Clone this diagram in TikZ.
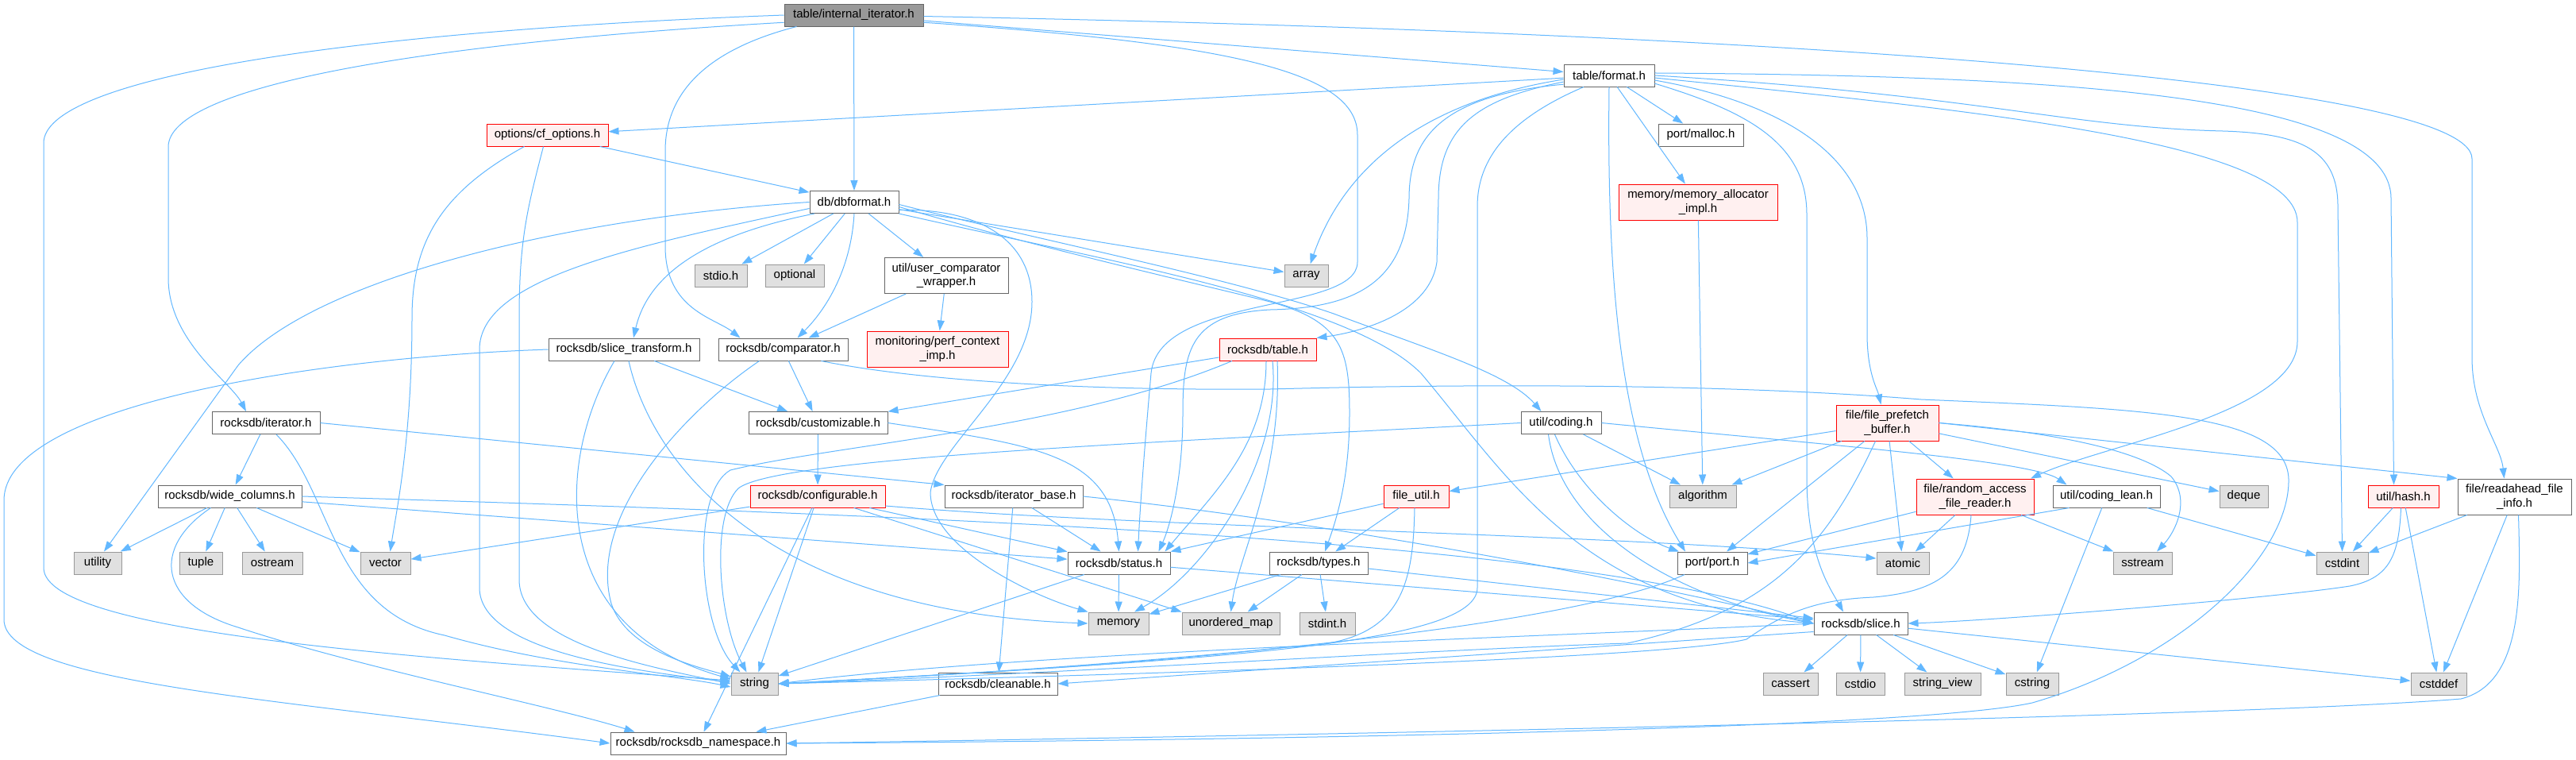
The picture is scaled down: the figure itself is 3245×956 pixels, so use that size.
\documentclass[tikz,border=0pt]{standalone}
\usepackage{fontspec}
\usetikzlibrary{arrows.meta}
\newfontfamily\doxfont{Liberation Sans}
\definecolor{edgeblue}{HTML}{63B8FF}
\definecolor{boxline}{HTML}{666666}
\definecolor{sysline}{HTML}{999999}
\definecolor{sysfill}{HTML}{E0E0E0}
\definecolor{rootfill}{HTML}{999999}
\definecolor{truncfill}{HTML}{FFF0F0}

\begin{document}
\begin{tikzpicture}[x=1pt,y=-1pt,>={Triangle[length=13pt,width=9pt]},
  every node/.style={font=\doxfont\fontsize{15}{17.5}\selectfont},
  hdr/.style={draw=boxline,fill=white,line width=1pt,minimum height=28pt,inner xsep=3pt,inner ysep=2pt},
  sys/.style={hdr,draw=sysline,fill=sysfill},
  trunc/.style={hdr,draw=red,fill=truncfill},
  rootbox/.style={hdr,fill=rootfill},
  two/.style={align=center,minimum height=45pt},
  dep/.style={->,draw=edgeblue,line width=1pt}]
  \path[use as bounding box,fill=white] (0,0) rectangle (3245,956);

  % headers
  \node[rootbox,minimum width=175pt] (root) at (1075.5,19) {table/internal\_iterator.h};
  \node[hdr,minimum width=114pt] (format) at (2027,95) {table/format.h};
  \node[trunc,minimum width=153pt] (cfopt) at (689.5,170) {options/cf\_options.h};
  \node[hdr,minimum width=107pt] (malloc) at (2142.5,170) {port/malloc.h};
  \node[hdr,minimum width=112pt] (dbformat) at (1076,254.5) {db/dbformat.h};
  \node[trunc,two,minimum width=200pt] (memalloc) at (2139,254.5) {memory/memory\_allocator\\\_impl.h};
  \node[sys,minimum width=66pt] (stdio) at (908,347) {stdio.h};
  \node[sys,minimum width=74pt] (optional) at (1001,347) {optional};
  \node[hdr,two,minimum width=156pt] (ucmpw) at (1192,347) {util/user\_comparator\\\_wrapper.h};
  \node[sys,minimum width=55pt] (array) at (1645.5,347) {array};
  \node[hdr,minimum width=190pt] (slicetr) at (786,440) {rocksdb/slice\_transform.h};
  \node[hdr,minimum width=163pt] (comparator) at (986.5,440) {rocksdb/comparator.h};
  \node[trunc,two,minimum width=178pt] (perfctx) at (1181,439.5) {monitoring/perf\_context\\\_imp.h};
  \node[trunc,minimum width=122pt] (table) at (1597,440) {rocksdb/table.h};
  \node[hdr,minimum width=136pt] (iterator) at (335,532.5) {rocksdb/iterator.h};
  \node[hdr,minimum width=175pt] (customizable) at (1030.5,532.5) {rocksdb/customizable.h};
  \node[hdr,minimum width=101pt] (coding) at (1966.5,532.5) {util/coding.h};
  \node[trunc,two,minimum width=129pt] (prefetch) at (2377.5,532.5) {file/file\_prefetch\\\_buffer.h};
  \node[hdr,minimum width=181pt] (widecol) at (289.5,625) {rocksdb/wide\_columns.h};
  \node[trunc,minimum width=170pt] (configurable) at (1030,625) {rocksdb/configurable.h};
  \node[hdr,minimum width=174pt] (iterbase) at (1277,625) {rocksdb/iterator\_base.h};
  \node[trunc,minimum width=82pt] (fileutil) at (1784,625) {file\_util.h};
  \node[sys,minimum width=84pt] (algorithm) at (2145,625) {algorithm};
  \node[trunc,two,minimum width=148pt] (randacc) at (2488,625.5) {file/random\_access\\\_file\_reader.h};
  \node[hdr,minimum width=135pt] (codinglean) at (2653.5,625) {util/coding\_lean.h};
  \node[sys,minimum width=61pt] (deque) at (2826.5,625) {deque};
  \node[trunc,minimum width=89pt] (hash) at (3027.5,625) {util/hash.h};
  \node[hdr,two,minimum width=143pt] (readahead) at (3167.5,625.5) {file/readahead\_file\\\_info.h};
  \node[sys,minimum width=60pt] (utility) at (123,709) {utility};
  \node[sys,minimum width=54pt] (tuple) at (253,709) {tuple};
  \node[sys,minimum width=76pt] (ostream) at (343,709) {ostream};
  \node[sys,minimum width=63pt] (vector) at (485.5,709) {vector};
  \node[hdr,minimum width=129pt] (status) at (1409.5,709) {rocksdb/status.h};
  \node[hdr,minimum width=124pt] (types) at (1661,709) {rocksdb/types.h};
  \node[hdr,minimum width=88pt] (port) at (2157,709) {port/port.h};
  \node[sys,minimum width=66pt] (atomic) at (2397,709) {atomic};
  \node[sys,minimum width=74pt] (sstream) at (2699,709) {sstream};
  \node[sys,minimum width=65pt] (cstdint) at (2950.5,709) {cstdint};
  \node[sys,minimum width=76pt] (memory) at (1409,785) {memory};
  \node[sys,minimum width=123pt] (umap) at (1550.5,785) {unordered\_map};
  \node[sys,minimum width=70pt] (stdint) at (1672,785) {stdint.h};
  \node[hdr,minimum width=118pt] (slice) at (2344,785) {rocksdb/slice.h};
  \node[sys,minimum width=59pt] (string) at (950.5,861) {string};
  \node[hdr,minimum width=150pt] (cleanable) at (1257,861) {rocksdb/cleanable.h};
  \node[sys,minimum width=69pt] (cassert) at (2255.5,861) {cassert};
  \node[sys,minimum width=61pt] (cstdio) at (2343.5,861) {cstdio};
  \node[sys,minimum width=96pt] (strview) at (2447,861) {string\_view};
  \node[sys,minimum width=66pt] (cstring) at (2560,861) {cstring};
  \node[sys,minimum width=70pt] (cstddef) at (3072,861) {cstddef};
  \node[hdr,minimum width=221pt] (nspace) at (879.5,936) {rocksdb/rocksdb\_namespace.h};

  % table/internal_iterator.h
  \draw[dep] (root.180) .. controls (420,40) and (55,100) .. (55,180) -- (55,715) .. controls (55,800) and (560,830) .. ([yshift=4pt]string.west);
  \draw[dep] (root.186) .. controls (520,55) and (212,110) .. (212,185) -- (212,350) .. controls (212,430) and (290,480) .. ([xshift=-25pt]iterator.north);
  \draw[dep] (root) -- (dbformat);
  \draw[dep] ([xshift=-72pt]root.south) .. controls (900,60) and (838,110) .. (838,190) -- (838,310) .. controls (838,390) and (900,400) .. ([xshift=-54pt]comparator.north);
  \draw[dep] (root) -- (format);
  \draw[dep] (root.-6) .. controls (1550,55) and (1710,90) .. (1710,170) -- (1710,330) .. controls (1710,395) and (1460,370) .. (1450,470) .. controls (1442,560) and (1436,640) .. ([xshift=24pt]status.north);
  \draw[dep] (root.-1) .. controls (2200,40) and (3114,100) .. (3114,200) -- (3114,450) .. controls (3114,520) and (3150,560) .. ([xshift=-13pt]readahead.north);

  % table/format.h
  \draw[dep] (format) -- (cfopt);
  \draw[dep] (format.185) .. controls (1780,130) and (1690,220) .. ([xshift=5pt]array.north);
  \draw[dep] (format.188) .. controls (1860,125) and (1812,160) .. (1812,250) -- (1810,330) .. controls (1800,400) and (1700,420) .. (table.north east);
  \draw[dep] (format.191) .. controls (1820,120) and (1775,170) .. (1775,250) .. controls (1772,360) and (1700,388) .. (1600,390) .. controls (1500,395) and (1490,440) .. (1490,520) .. controls (1490,600) and (1475,660) .. ([xshift=50pt]status.north);
  \draw[dep] ([xshift=-32pt]format.south) .. controls (1900,150) and (1861,200) .. (1861,260) -- (1861,740) .. controls (1861,810) and (1550,830) .. (string.east);
  \draw[dep] (format.south) .. controls (2024,350) and (2040,560) .. ([xshift=-34pt]port.north);
  \draw[dep] (format) -- (malloc);
  \draw[dep] (format) -- (memalloc);
  \draw[dep] (format.-10) .. controls (2200,140) and (2276,180) .. (2276,270) -- (2276,600) .. controls (2276,700) and (2305,740) .. ([xshift=-22pt]slice.north);
  \draw[dep] (format.-6) .. controls (2250,130) and (2352,200) .. (2352,300) -- (2352,420) .. controls (2352,470) and (2365,490) .. ([xshift=-8pt]prefetch.north);
  \draw[dep] (format.-3) .. controls (2500,140) and (2894,180) .. (2894,280) -- (2894,430) .. controls (2894,520) and (2650,560) .. ([xshift=70pt]randacc.north);
  \draw[dep] (format.east) .. controls (2500,120) and (2600,160) .. (2800,165) .. controls (2900,168) and (2945,190) .. (2945,260) -- (cstdint.north);
  \draw[dep] (format.3) .. controls (2600,95) and (3012,120) .. (3012,250) -- ([xshift=-12pt]hash.north);

  % db/dbformat.h
  \draw[dep] (dbformat.west) .. controls (700,275) and (390,355) .. (300,460) -- ([xshift=8pt]utility.north);
  \draw[dep] ([yshift=-8pt]dbformat.west) .. controls (800,310) and (604,350) .. (604,440) -- (604,740) .. controls (604,820) and (800,845) .. ([yshift=2pt]string.west);
  \draw[dep] ([xshift=-50pt]dbformat.south) .. controls (920,290) and (820,330) .. ([xshift=12pt]slicetr.north);
  \draw[dep] (dbformat) -- (stdio);
  \draw[dep] (dbformat) -- (optional);
  \draw[dep] (dbformat.south) .. controls (1072,340) and (1040,390) .. ([xshift=18pt]comparator.north);
  \draw[dep] (dbformat) -- (ucmpw);
  \draw[dep] (dbformat.-10) .. controls (1230,262) and (1300,300) .. (1300,380) .. controls (1300,480) and (1180,560) .. (1172,620) .. controls (1172,690) and (1300,750) .. (memory.north west);
  \draw[dep] (dbformat) -- (array);
  \draw[dep] (dbformat.-3) .. controls (1300,300) and (1550,350) .. (1680,395) .. controls (1800,440) and (1900,470) .. ([xshift=-25pt]coding.north);
  \draw[dep] (dbformat.-6) .. controls (1300,310) and (1520,360) .. (1600,380) .. controls (1690,405) and (1700,440) .. (1700,520) .. controls (1700,600) and (1685,650) .. ([xshift=8pt]types.north);
  \draw[dep] (dbformat.south east) .. controls (1400,330) and (1700,380) .. (1790,470) .. controls (1900,600) and (1990,760) .. (slice.west);

  % options/cf_options.h
  \draw[dep] (cfopt) -- (dbformat);
  \draw[dep] ([xshift=-29pt]cfopt.south) .. controls (560,240) and (519,300) .. (519,400) .. controls (519,550) and (500,640) .. ([xshift=6pt]vector.north);
  \draw[dep] ([xshift=-5pt]cfopt.south) .. controls (665,260) and (654,300) .. (654,400) -- (654,730) .. controls (654,810) and (820,840) .. (string.west);

  % rocksdb/slice_transform.h
  \draw[dep] (slicetr) -- (customizable);
  \draw[dep] ([xshift=6pt]slicetr.south) .. controls (820,580) and (960,770) .. (memory.west);
  \draw[dep] ([xshift=-12pt]slicetr.south) .. controls (700,580) and (690,790) .. ([yshift=6pt]string.west);
  \draw[dep] (slicetr.west) .. controls (400,450) and (5,510) .. (5,630) -- (5,780) .. controls (5,860) and (350,880) .. (nspace.west);

  % rocksdb/comparator.h
  \draw[dep] (comparator) -- (customizable);
  \draw[dep] ([xshift=-30pt]comparator.south) .. controls (860,520) and (740,650) .. (770,760) .. controls (790,820) and (880,840) .. ([yshift=9pt]string.west);
  \draw[dep] ([xshift=48pt]comparator.south) .. controls (1150,478) and (1350,492) .. (1600,490) .. controls (1900,482) and (2200,485) .. (2420,503) .. controls (2700,515) and (2880,520) .. (2883,603) .. controls (2885,700) and (2750,830) .. (2560,885) .. controls (2400,920) and (1500,933) .. (nspace.east);

  % util/user_comparator_wrapper.h
  \draw[dep] (ucmpw) -- (comparator);
  \draw[dep] (ucmpw) -- (perfctx);

  % rocksdb/table.h
  \draw[dep] (table) -- (customizable);
  \draw[dep] ([xshift=-45pt]table.south) .. controls (1350,540) and (1050,560) .. (920,592) .. controls (870,620) and (880,790) .. ([xshift=-18pt]string.north);
  \draw[dep] ([xshift=-2pt]table.south) .. controls (1595,560) and (1530,620) .. ([xshift=58pt]status.north);
  \draw[dep] ([xshift=6pt]table.south) .. controls (1615,580) and (1520,720) .. ([xshift=20pt]memory.north);
  \draw[dep] ([xshift=12pt]table.south) .. controls (1615,600) and (1560,700) .. (umap.north);

  % rocksdb/iterator.h
  \draw[dep] (iterator) -- (widecol);
  \draw[dep] ([xshift=13pt]iterator.south) .. controls (420,620) and (415,770) .. (560,800) .. controls (700,840) and (850,850) .. ([yshift=-4pt]string.west);
  \draw[dep] (iterator.east) -- (iterbase.north west);

  % rocksdb/wide_columns.h
  \draw[dep] (widecol) -- (utility);
  \draw[dep] (widecol) -- (tuple);
  \draw[dep] (widecol) -- (ostream);
  \draw[dep] (widecol) -- (vector);
  \draw[dep] ([xshift=-24pt]widecol.south) .. controls (190,690) and (200,760) .. (300,790) .. controls (450,840) and (700,890) .. ([xshift=-80pt]nspace.north);
  \draw[dep] (widecol) -- (status);
  \draw[dep] (widecol.east) .. controls (1200,650) and (2000,680) .. (slice.west);

  % rocksdb/customizable.h, rocksdb/configurable.h, rocksdb/iterator_base.h
  \draw[dep] (customizable) -- (configurable);
  \draw[dep] (customizable.east) .. controls (1300,560) and (1400,570) .. (status.north);
  \draw[dep] (configurable) -- (vector);
  \draw[dep] (configurable) -- (string);
  \draw[dep] (configurable) -- (nspace);
  \draw[dep] (configurable) -- (status);
  \draw[dep] (configurable) -- (umap.north west);
  \draw[dep] (configurable.-8) .. controls (1450,665) and (2050,672) .. (atomic.170);
  \draw[dep] (iterbase) -- (cleanable);
  \draw[dep] (iterbase) -- (status);
  \draw[dep] (iterbase.east) .. controls (1700,660) and (2100,740) .. (slice.west);

  % rocksdb/status.h, rocksdb/types.h, port/port.h
  \draw[dep] (status) -- (memory);
  \draw[dep] (status) -- (string);
  \draw[dep] (status) -- (slice);
  \draw[dep] (types) -- (stdint);
  \draw[dep] (types) -- (umap);
  \draw[dep] (types) -- (memory);
  \draw[dep] (types) -- (slice);
  \draw[dep] ([xshift=-35pt]port.south) .. controls (2000,780) and (1600,830) .. (string.east);

  % util/coding.h
  \draw[dep] (coding.west) .. controls (1500,555) and (980,575) .. (930,615) .. controls (895,650) and (905,780) .. ([xshift=-10pt]string.north);
  \draw[dep] (coding) -- (algorithm);
  \draw[dep] ([xshift=-8pt]coding.south) .. controls (1990,620) and (2060,675) .. ([xshift=-42pt]port.north);
  \draw[dep] ([xshift=-16pt]coding.south) .. controls (1965,660) and (2100,750) .. (slice.west);
  \draw[dep] (coding.east) .. controls (2300,560) and (2560,580) .. ([xshift=-50pt]codinglean.north);

  % file/file_prefetch_buffer.h
  \draw[dep] (prefetch) -- (fileutil);
  \draw[dep] (prefetch) -- (algorithm);
  \draw[dep] (prefetch) -- (port);
  \draw[dep] ([xshift=-15pt]prefetch.south) .. controls (2300,690) and (2230,770) .. (2050,810) .. controls (1800,818) and (1300,850) .. (string.east);
  \draw[dep] (prefetch) -- (atomic);
  \draw[dep] (prefetch) -- (randacc);
  \draw[dep] (prefetch.east) .. controls (2600,545) and (2700,570) .. (2735,600) .. controls (2760,630) and (2740,670) .. ([xshift=18pt]sstream.north);
  \draw[dep] (prefetch) -- (deque);
  \draw[dep] (prefetch.east) -- (readahead.north west);

  % file_util.h, file/random_access_file_reader.h
  \draw[dep] ([xshift=-2pt]fileutil.south) .. controls (1780,750) and (1760,812) .. (1620,815) .. controls (1400,840) and (1150,852) .. (string.east);
  \draw[dep] (fileutil) -- (status);
  \draw[dep] (fileutil) -- (types);
  \draw[dep] (randacc) -- (atomic);
  \draw[dep] ([xshift=-5pt]randacc.south) .. controls (2478,720) and (2440,745) .. (2360,752) .. controls (2290,755) and (2250,770) .. (2200,805) .. controls (2100,830) and (1400,850) .. (string.east);
  \draw[dep] (randacc) -- (sstream);
  \draw[dep] (randacc) -- (port);

  % util/coding_lean.h, util/hash.h, file/readahead_file_info.h
  \draw[dep] (codinglean) -- (cstdint);
  \draw[dep] (codinglean) -- (cstring);
  \draw[dep] ([xshift=-47pt]codinglean.south) -- (port.east);
  \draw[dep] (hash) -- (cstdint);
  \draw[dep] (hash) -- (cstddef);
  \draw[dep] ([xshift=-3pt]hash.south) .. controls (3022,700) and (3010,728) .. (2960,738) .. controls (2850,755) and (2500,782) .. (slice.east);
  \draw[dep] (readahead) -- (cstdint);
  \draw[dep] (readahead) -- (cstddef);
  \draw[dep] ([xshift=5pt]readahead.south) .. controls (3175,740) and (3180,860) .. (3100,880) .. controls (2800,905) and (1400,930) .. (nspace.east);

  % rocksdb/slice.h, rocksdb/cleanable.h, memory/memory_allocator_impl.h
  \draw[dep] (slice) -- (cassert);
  \draw[dep] (slice) -- (cstdio);
  \draw[dep] (slice) -- (strview);
  \draw[dep] (slice) -- (cstring);
  \draw[dep] (slice) -- (cstddef);
  \draw[dep] (slice.west) .. controls (2000,800) and (1300,820) .. (string.east);
  \draw[dep] (slice.190) -- (cleanable.east);
  \draw[dep] (cleanable) -- (nspace);
  \draw[dep] (memalloc) -- (algorithm);
\end{tikzpicture}
\end{document}
